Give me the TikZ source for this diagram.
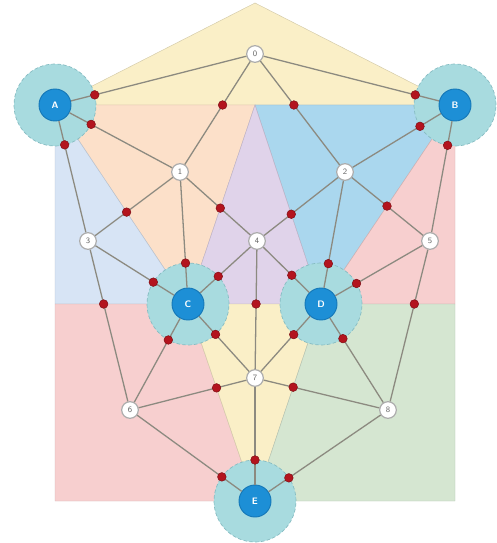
\documentclass[tikz,border=0pt]{standalone}
\usepackage[dvipsnames]{xcolor}
\usepackage{tikz}
\usetikzlibrary{calc}
\definecolor{TopYellow}{HTML}{FAEFC7}
\definecolor{Peach}{HTML}{FCE0C9}
\definecolor{Lilac}{HTML}{E0D3EA}
\definecolor{SkyBlue}{HTML}{AAD7EE}
\definecolor{PaleBlue}{HTML}{D7E4F5}
\definecolor{Rose}{HTML}{F7CFCF}
\definecolor{Sage}{HTML}{D5E6D1}
\definecolor{HaloTeal}{HTML}{A8DBDF}
\definecolor{HaloEdge}{HTML}{86BCC2}
\definecolor{SiteBlue}{HTML}{1D8FD6}
\definecolor{SiteEdge}{HTML}{1578B8}
\definecolor{DotRed}{HTML}{B3141E}
\definecolor{LinkGray}{HTML}{8C8A80}

\begin{document}
\begin{tikzpicture}[x=0.03cm,y=-0.03cm,every node/.style={font=\sffamily},region/.style={fill=#1,draw=#1!85!black,line width=0.4pt},halo/.style={fill=HaloTeal,draw=HaloEdge,densely dashed,line width=0.6pt},site/.style={circle,draw=SiteEdge,fill=SiteBlue,line width=0.8pt,minimum size=0.96cm,inner sep=0pt,text=white,font=\sffamily\bfseries\footnotesize},vtx/.style={circle,draw=gray!65,fill=white,line width=1pt,minimum size=0.5cm,inner sep=0pt,text=gray!80!black,font=\sffamily\scriptsize},dot/.style={circle,fill=DotRed,draw=DotRed!70!black,line width=0.4pt,minimum size=0.26cm,inner sep=0pt},link/.style={draw=LinkGray,line width=1.1pt}]
\useasboundingbox (0,0) rectangle (496,543);
% sites and the split points of the plane
\coordinate (pa) at (55,105); \coordinate (pb) at (455,105); \coordinate (pc) at (188,304);
\coordinate (pd) at (321,304); \coordinate (pe) at (255,501);
\coordinate (apex) at (255,3); \coordinate (mid) at (255,105);
% coloured regions
\path[region=TopYellow] (apex) -- (pb) -- (pa) -- cycle;
\path[region=Peach] (pa) -- (mid) -- (pc) -- cycle;
\path[region=SkyBlue] (mid) -- (pb) -- (pd) -- cycle;
\path[region=Lilac] (mid) -- (pd) -- (pc) -- cycle;
\path[region=PaleBlue] (pa) -- (pc) -- (pa |- pc) -- cycle;
\path[region=Rose] (pb) -- (pb |- pd) -- (pd) -- cycle;
\path[region=Rose] (pa |- pc) -- (pc) -- (pe) -- (pa |- pe) -- cycle;
\path[region=TopYellow] (pc) -- (pd) -- (pe) -- cycle;
\path[region=Sage] (pd) -- (pb |- pd) -- (pb |- pe) -- (pe) -- cycle;
% halos
\path[halo] (pa) circle[radius=1.23cm]; \path[halo] (pb) circle[radius=1.23cm];
\path[halo] (pc) circle[radius=1.23cm]; \path[halo] (pd) circle[radius=1.23cm];
\path[halo] (pe) circle[radius=1.23cm];
% sites
\node[site] (A) at (pa) {A}; \node[site] (B) at (pb) {B}; \node[site] (C) at (pc) {C};
\node[site] (D) at (pd) {D}; \node[site] (E) at (pe) {E};
% vertices
\node[vtx] (v0) at (255,54) {0};
\node[vtx] (v1) at (180,172) {1};
\node[vtx] (v2) at (345,172) {2};
\node[vtx] (v3) at (88,241) {3};
\node[vtx] (v4) at (257,241) {4};
\node[vtx] (v5) at (430,241) {5};
\node[vtx] (v6) at (130,410) {6};
\node[vtx] (v7) at (255,378) {7};
\node[vtx] (v8) at (388,410) {8};
% links
\draw[link] (v0) -- (A); \draw[link] (v0) -- (B); \draw[link] (v0) -- (v1); \draw[link] (v0) -- (v2);
\draw[link] (v1) -- (A); \draw[link] (v1) -- (v3); \draw[link] (v1) -- (C); \draw[link] (v1) -- (v4);
\draw[link] (v2) -- (B); \draw[link] (v2) -- (v5); \draw[link] (v2) -- (D); \draw[link] (v2) -- (v4);
\draw[link] (v3) -- (A); \draw[link] (v3) -- (C); \draw[link] (v3) -- (v6);
\draw[link] (v4) -- (C); \draw[link] (v4) -- (D); \draw[link] (v4) -- (v7);
\draw[link] (v5) -- (B); \draw[link] (v5) -- (D); \draw[link] (v5) -- (v8);
\draw[link] (v6) -- (C); \draw[link] (v6) -- (v7); \draw[link] (v6) -- (E);
\draw[link] (v7) -- (C); \draw[link] (v7) -- (D); \draw[link] (v7) -- (E);
\draw[link] (v8) -- (D); \draw[link] (v8) -- (v7); \draw[link] (v8) -- (E);
% red marks where links cross region borders
\node[dot] (x01) at (intersection of v0.center--v1.center and pa--mid) {};
\node[dot] (x02) at (intersection of v0.center--v2.center and mid--pb) {};
\node[dot] (x13) at (intersection of v1.center--v3.center and pa--pc) {};
\node[dot] (x14) at (intersection of v1.center--v4.center and mid--pc) {};
\node[dot] (x24) at (intersection of v2.center--v4.center and mid--pd) {};
\node[dot] (x25) at (intersection of v2.center--v5.center and pb--pd) {};
\node[dot] (x36) at (intersection of v3.center--v6.center and pa|-pc--pc) {};
\node[dot] (x47) at (intersection of v4.center--v7.center and pc--pd) {};
\node[dot] (x58) at (intersection of v5.center--v8.center and pd--pb|-pd) {};
\node[dot] (x67) at (intersection of v6.center--v7.center and pc--pe) {};
\node[dot] (x78) at (intersection of v7.center--v8.center and pd--pe) {};
% red marks on the halo rims
\node[dot] (hA0) at ($(pa)!1.23cm!(v0)$) {}; \node[dot] (hA1) at ($(pa)!1.23cm!(v1)$) {}; \node[dot] (hA3) at ($(pa)!1.23cm!(v3)$) {};
\node[dot] (hB0) at ($(pb)!1.23cm!(v0)$) {}; \node[dot] (hB2) at ($(pb)!1.23cm!(v2)$) {}; \node[dot] (hB5) at ($(pb)!1.23cm!(v5)$) {};
\node[dot] (hC1) at ($(pc)!1.23cm!(v1)$) {}; \node[dot] (hC3) at ($(pc)!1.23cm!(v3)$) {}; \node[dot] (hC4) at ($(pc)!1.23cm!(v4)$) {};
\node[dot] (hC6) at ($(pc)!1.23cm!(v6)$) {}; \node[dot] (hC7) at ($(pc)!1.23cm!(v7)$) {};
\node[dot] (hD2) at ($(pd)!1.23cm!(v2)$) {}; \node[dot] (hD4) at ($(pd)!1.23cm!(v4)$) {}; \node[dot] (hD5) at ($(pd)!1.23cm!(v5)$) {};
\node[dot] (hD7) at ($(pd)!1.23cm!(v7)$) {}; \node[dot] (hD8) at ($(pd)!1.23cm!(v8)$) {};
\node[dot] (hE6) at ($(pe)!1.23cm!(v6)$) {}; \node[dot] (hE7) at ($(pe)!1.23cm!(v7)$) {}; \node[dot] (hE8) at ($(pe)!1.23cm!(v8)$) {};
\end{tikzpicture}
\end{document}
